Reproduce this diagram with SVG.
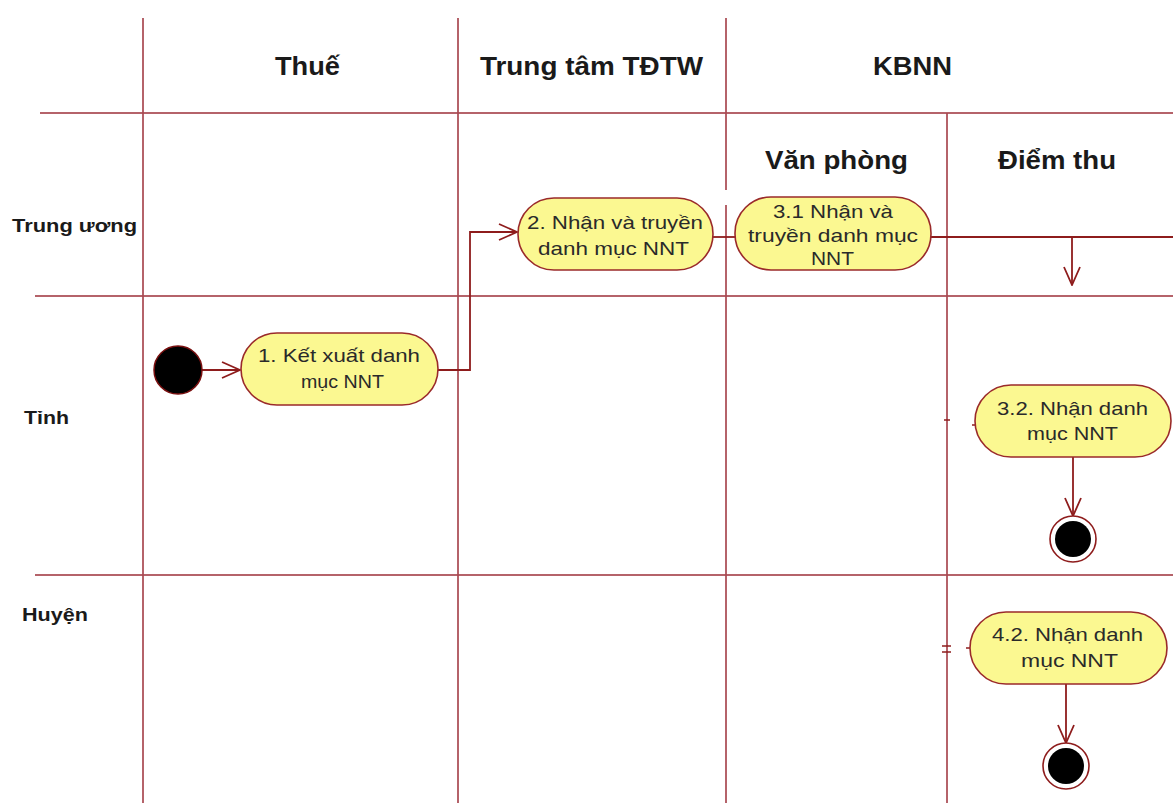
<svg xmlns="http://www.w3.org/2000/svg" width="1173" height="803" viewBox="0 0 1173 803">
  <defs>
    <style>
      .lane { stroke: #a84850; stroke-width: 2; stroke-opacity: 0.85; fill: none; }
      .hdr { font-family: "Liberation Sans", Arial, sans-serif; font-weight: bold; font-size: 26px; fill: #1a1a1a; }
      .row { font-family: "Liberation Sans", Arial, sans-serif; font-weight: bold; font-size: 19px; fill: #1a1a1a; }
      .act rect { fill: #fbf891; stroke: #9a2a2a; stroke-width: 1.6; }
      .act text { font-family: "Liberation Sans", Arial, sans-serif; font-size: 19px; fill: #2a2a2a; }
      .flow { stroke: #8e1c1c; stroke-width: 1.8; fill: none; }
      .tick { stroke: #8e1c1c; stroke-width: 1.5; fill: none; }
    </style>
    <marker id="open" viewBox="0 0 20 20" refX="19" refY="10" markerWidth="20" markerHeight="20" markerUnits="userSpaceOnUse" orient="auto">
      <path d="M1,2 L19,10 L1,18" fill="none" stroke="#8e1c1c" stroke-width="1.8"/>
    </marker>
  </defs>

  <rect width="1173" height="803" fill="#ffffff"/>

  <!-- swimlane grid -->
  <g id="lanes">
    <line class="lane" x1="143" y1="18" x2="143" y2="803"/>
    <line class="lane" x1="458" y1="18" x2="458" y2="803"/>
    <line class="lane" x1="726" y1="18" x2="726" y2="190"/>
    <line class="lane" x1="726" y1="205" x2="726" y2="803"/>
    <line class="lane" x1="947" y1="113" x2="947" y2="803"/>
    <line class="lane" x1="40" y1="113" x2="1173" y2="113"/>
    <line class="lane" x1="35" y1="296" x2="1173" y2="296"/>
    <line class="lane" x1="35" y1="575" x2="1173" y2="575"/>
  </g>

  <!-- lane headers -->
  <g id="headers" lengthAdjust="spacingAndGlyphs">
    <text class="hdr" x="275" y="75" textLength="65" lengthAdjust="spacingAndGlyphs">Thuế</text>
    <text class="hdr" x="480" y="75" textLength="223" lengthAdjust="spacingAndGlyphs">Trung tâm TĐTW</text>
    <text class="hdr" x="873" y="75" textLength="79" lengthAdjust="spacingAndGlyphs">KBNN</text>
    <text class="hdr" x="765" y="169" textLength="143" lengthAdjust="spacingAndGlyphs">Văn phòng</text>
    <text class="hdr" x="998" y="169" textLength="118" lengthAdjust="spacingAndGlyphs">Điểm thu</text>
    <text class="row" x="12" y="232" textLength="125" lengthAdjust="spacingAndGlyphs">Trung ương</text>
    <text class="row" x="24" y="424" textLength="45" lengthAdjust="spacingAndGlyphs">Tỉnh</text>
    <text class="row" x="22" y="621" textLength="66" lengthAdjust="spacingAndGlyphs">Huyện</text>
  </g>

  <!-- connectors -->
  <g id="connectors">
    <line class="flow" x1="202" y1="370" x2="240" y2="370" marker-end="url(#open)"/>
    <polyline class="flow" points="438,370 470,370 470,232 517,232" marker-end="url(#open)"/>
    <line class="flow" x1="713" y1="237" x2="735" y2="237"/>
    <line class="flow" x1="931" y1="237" x2="1173" y2="237"/>
    <line class="flow" x1="1072" y1="238" x2="1072" y2="285" marker-end="url(#open)"/>
    <line class="flow" x1="1073" y1="457" x2="1073" y2="516" marker-end="url(#open)"/>
    <line class="flow" x1="1066" y1="684" x2="1066" y2="743" marker-end="url(#open)"/>
    <!-- stub ends of incoming flows -->
    <line class="tick" x1="944" y1="420" x2="950" y2="420"/>
    <line class="tick" x1="972" y1="425" x2="975" y2="425"/>
    <line class="tick" x1="942" y1="646" x2="951" y2="646"/>
    <line class="tick" x1="942" y1="652" x2="951" y2="652"/>
    <line class="tick" x1="966" y1="648" x2="970" y2="648"/>
  </g>

  <!-- start -->
  <g id="start">
    <circle cx="178" cy="370" r="24" fill="#000" stroke="#7a1010" stroke-width="1.5"/>
  </g>

  <!-- activities -->
  <g id="n1" class="act">
    <rect x="241" y="333" width="197" height="72" rx="36" ry="36"/>
    <text x="258" y="362" textLength="162" lengthAdjust="spacingAndGlyphs">1. Kết xuất danh</text>
    <text x="301" y="388" textLength="83" lengthAdjust="spacingAndGlyphs">mục NNT</text>
  </g>
  <g id="n2" class="act">
    <rect x="518" y="198" width="195" height="72" rx="36" ry="36"/>
    <text x="527" y="229" textLength="176" lengthAdjust="spacingAndGlyphs">2. Nhận và truyền</text>
    <text x="538" y="255" textLength="151" lengthAdjust="spacingAndGlyphs">danh mục NNT</text>
  </g>
  <g id="n31" class="act">
    <rect x="735" y="197" width="196" height="73" rx="36" ry="36"/>
    <text x="773" y="218" textLength="120" lengthAdjust="spacingAndGlyphs">3.1 Nhận và</text>
    <text x="748" y="242" textLength="170" lengthAdjust="spacingAndGlyphs">truyền danh mục</text>
    <text x="811" y="265" textLength="43" lengthAdjust="spacingAndGlyphs">NNT</text>
  </g>
  <g id="n32" class="act">
    <rect x="975" y="385" width="196" height="72" rx="36" ry="36"/>
    <text x="997" y="415" textLength="151" lengthAdjust="spacingAndGlyphs">3.2. Nhận danh</text>
    <text x="1027" y="440" textLength="91" lengthAdjust="spacingAndGlyphs">mục NNT</text>
  </g>
  <g id="n42" class="act">
    <rect x="970" y="612" width="197" height="72" rx="36" ry="36"/>
    <text x="992" y="641" textLength="151" lengthAdjust="spacingAndGlyphs">4.2. Nhận danh</text>
    <text x="1021" y="667" textLength="97" lengthAdjust="spacingAndGlyphs">mục NNT</text>
  </g>

  <!-- end states -->
  <g id="end1">
    <circle cx="1073" cy="539" r="23" fill="#fff" stroke="#8e1c1c" stroke-width="1.6"/>
    <circle cx="1073" cy="539" r="18" fill="#000"/>
  </g>
  <g id="end2">
    <circle cx="1066" cy="766" r="23" fill="#fff" stroke="#8e1c1c" stroke-width="1.6"/>
    <circle cx="1066" cy="766" r="18" fill="#000"/>
  </g>
</svg>
